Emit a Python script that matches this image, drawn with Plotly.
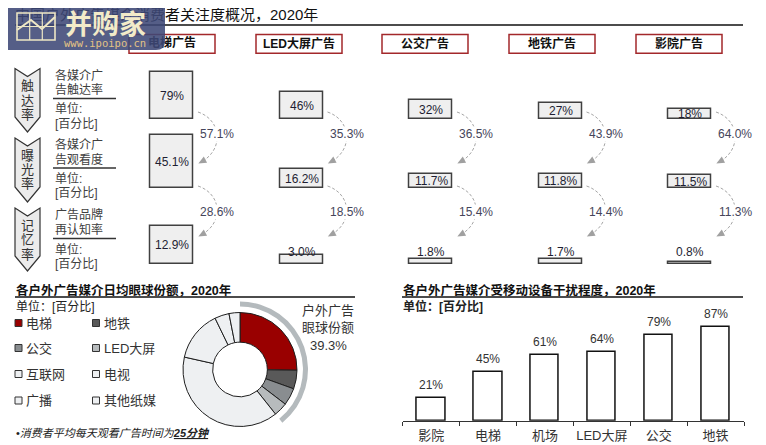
import math
import plotly.graph_objects as go

W, H = 766, 445
OX, OY = 8, 8   # page body margin: figure starts 8px in from the page corner

def X(x): return (x - OX) / W
def Y(y): return 1 - (y - OY) / H
def P(pt): return f"{X(pt[0]):.5f},{Y(pt[1]):.5f}"

FONT = "Liberation Sans, Arial, Noto Sans CJK SC, sans-serif"

# ---------------- data ----------------
title = "中国户外广告媒介消费者关注度概况，2020年"
media = ["电梯广告", "LED大屏广告", "公交广告", "地铁广告", "影院广告"]
stage_names = ["触达率", "曝光率", "记忆率"]
stage_desc = [["各媒介广", "告触达率"], ["各媒介广", "告观看度"], ["广告品牌", "再认知率"]]
unit_lines = ["单位:", "[百分比]"]
reach = [79, 46, 32, 27, 18]
exposure = [45.1, 16.2, 11.7, 11.8, 11.5]
recall = [12.9, 3.0, 1.8, 1.7, 0.8]
conv_reach_exposure = [57.1, 35.3, 36.5, 43.9, 64.0]
conv_exposure_recall = [28.6, 18.5, 15.4, 14.4, 11.3]

share_title = "各户外广告媒介日均眼球份额，2020年"
share_labels = ["电梯", "地铁", "公交", "LED大屏", "互联网", "电视", "广播", "其他纸媒"]
share_values = [25.2, 5.3, 4.9, 3.9, 39.2, 14.3, 4.1, 3.1]
outdoor_count = 4
footnote = "•<i>消费者平均每天观看广告时间为<b><u>25分钟</u></b></i>"

dist_title = "各户外广告媒介受移动设备干扰程度，2020年"
dist_cats = ["影院", "电梯", "机场", "LED大屏", "公交", "地铁"]
dist_vals = [21, 45, 61, 64, 79, 87]

# ---------------- styling ----------------
share_colors = ["#990000", "#595959", "#898D90", "#B7BBBD",
                "#EEF0F2", "#EEF0F2", "#EEF0F2", "#EEF0F2"]

fig = go.Figure()
shapes = []
ann = []

def text(x, y, s, size=12, color="#333", bold=False, anchor="left", bg=None, family=FONT):
    d = dict(x=X(x), y=Y(y), xref="paper", yref="paper", text=s, showarrow=False,
             xanchor=anchor, yanchor="middle",
             font=dict(family=family, size=size, color=color,
                       weight="bold" if bold else "normal"))
    if bg:
        d["bgcolor"] = bg
        d["borderpad"] = 0
    ann.append(d)

def rect(x0, y0, x1, y1, fill="rgba(0,0,0,0)", line="#000", lw=1):
    shapes.append(dict(type="rect", xref="paper", yref="paper", x0=X(x0), x1=X(x1),
                       y0=Y(y1), y1=Y(y0), fillcolor=fill,
                       line=dict(color=line, width=lw), layer="above"))

def hline(x0, x1, y, color="#000", lw=1.5):
    shapes.append(dict(type="line", xref="paper", yref="paper", x0=X(x0), x1=X(x1),
                       y0=Y(y), y1=Y(y), line=dict(color=color, width=lw), layer="above"))

def poly(pts, fill, line="rgba(0,0,0,0)", lw=0):
    p = "M " + " L ".join(P(q) for q in pts) + " Z"
    shapes.append(dict(type="path", xref="paper", yref="paper", path=p, fillcolor=fill,
                       line=dict(color=line, width=lw), layer="above"))

# ---------------- overlay axis (page pixel coords) for text under watermark ----------------
fig.add_trace(go.Scatter(x=[15], y=[16], text=[title], mode="text",
                         textposition="middle right",
                         textfont=dict(family=FONT, size=15, color="#111"),
                         xaxis="x5", yaxis="y5", cliponaxis=False, hoverinfo="skip"))
header_cx = [172, 299, 425, 552, 679]
fig.add_trace(go.Scatter(x=[header_cx[0]], y=[44], text=[media[0]], mode="text",
                         textposition="middle center",
                         textfont=dict(family=FONT, size=12, color="#111", weight="bold"),
                         xaxis="x5", yaxis="y5", cliponaxis=False, hoverinfo="skip"))

hline(15, 743, 25, "#111", 1.6)
for i, m in enumerate(media):
    cx = header_cx[i]
    rect(cx - 43, 34.5, cx + 43, 53.3, line="#A3282B", lw=1.5)
    if i > 0:
        text(cx, 44, m, size=12, color="#111", bold=True, anchor="center")

# ---------------- funnel boxes ----------------
row_base = [119.3, 188.3, 264.0]
row_top = [69, 128, 220]
row_scale = [0.6, 1.18, 2.95]
row_minlabel = [0, 0, 12.3]
rows = [reach, exposure, recall]
xl, xr = 107.25, 754.75
colw = (xr - xl) / 5
axnames = ["", "2", "3"]
for r in range(3):
    a = axnames[r]
    fig.add_trace(go.Bar(x=list(range(5)), y=rows[r], width=0.332,
                         marker=dict(color="#EFEFEF", line=dict(color="#404040", width=1.5)),
                         xaxis="x" + a, yaxis="y" + a, hoverinfo="skip"))
    fig.layout["xaxis" + a] = dict(domain=[X(xl), X(xr)], range=[-0.5, 4.5], visible=False,
                                   anchor="y" + a, fixedrange=True, automargin=False)
    fig.layout["yaxis" + a] = dict(domain=[Y(row_base[r]), Y(row_top[r])],
                                   range=[0, (row_base[r] - row_top[r]) / row_scale[r]],
                                   visible=False, anchor="x" + a, fixedrange=True,
                                   automargin=False)
    for i, v in enumerate(rows[r]):
        lab = f"{v:g}%" if r == 0 else f"{v:.1f}%"
        yv = max(v / 2, row_minlabel[r] / row_scale[r])
        ann.append(dict(x=i, y=yv, xref="x" + a, yref="y" + a, text=lab, showarrow=False,
                        xanchor="center", yanchor="middle",
                        font=dict(family=FONT, size=12, color="#1E1E32")))

arc_gaps = [(112, 162, 134), (186, 235, 212)]
rates = [conv_reach_exposure, conv_exposure_recall]
for g, (sy, ey, ty) in enumerate(arc_gaps):
    for i in range(5):
        cx = xl + colw * (i + 0.5)
        S = (cx + 26, sy); E = (cx + 29, ey)
        C1 = (cx + 50, sy + 8); C2 = (cx + 52, ey - 12)
        shapes.append(dict(type="path", xref="paper", yref="paper",
                           path=f"M {P(S)} C {P(C1)} {P(C2)} {P(E)}",
                           line=dict(color="#A6A6A6", width=1, dash="3px,2px"), layer="above"))
        dx, dy = E[0] - C2[0], E[1] - C2[1]
        n = math.hypot(dx, dy); ux, uy = dx / n, dy / n
        px_, py_ = -uy, ux
        tip = (E[0] + ux * 3, E[1] + uy * 3)
        bc = (E[0] - ux * 5, E[1] - uy * 5)
        poly([tip, (bc[0] + px_ * 3.5, bc[1] + py_ * 3.5), (bc[0] - px_ * 3.5, bc[1] - py_ * 3.5)],
             "#A0A0A0")
        text(cx + 45, ty, f"{rates[g][i]:.1f}%", size=12, color="#45455A", anchor="center",
             bg="white")

chev = [(68.5, 132), (138, 202), (208, 271)]
desc_off = [0, 69.5, 140]
for r in range(3):
    t, b = chev[r]
    poly([(15, t), (27.5, t + 8), (40, t), (40, b - 15), (27.5, b), (15, b - 15)],
         "#EBEBEB", "#333", 1.2)
    for k, ch in enumerate(stage_names[r]):
        text(27.5, t + 17 + 14.5 * k, ch, size=13, color="#333", anchor="center")
    o = desc_off[r]
    text(53, 75 + o, stage_desc[r][0], size=12, color="#404040")
    text(53, 89.5 + o, stage_desc[r][1], size=12, color="#404040")
    hline(53, 116, 98.5 + o, "#333", 1.5)
    text(53, 109 + o, unit_lines[0], size=12, color="#404040")
    text(53, 123.5 + o, unit_lines[1], size=12, color="#404040")

# ---------------- bottom-left: donut ----------------
text(14, 290, share_title, size=12.5, color="#111", bold=True)
hline(15, 355, 297, "#111", 1.3)
text(14, 306.5, "单位：[百分比]", size=12, color="#222")
leg_x = [15, 92.5]
leg_y = [323, 348, 374, 400.5]
for k, lab in enumerate(share_labels):
    sx = leg_x[k % 2]; yy = leg_y[k // 2]
    rect(sx, yy - 3.5, sx + 7, yy + 3.5, fill=share_colors[k], line="#333", lw=1)
    text(sx + 9, yy, lab, size=13, color="#333")

fig.add_trace(go.Pie(labels=share_labels, values=share_values, hole=0.48, sort=False,
                     direction="clockwise", rotation=0, textinfo="none",
                     marker=dict(colors=share_colors, line=dict(color="#1F1F1F", width=1)),
                     domain=dict(x=[X(183), X(297)], y=[Y(426.5), Y(312.5)]),
                     hoverinfo="skip", showlegend=False))
outdoor = round(sum(share_values[:outdoor_count]), 1)
fig.add_trace(go.Pie(labels=["户外", "其他"], values=[outdoor, 100 - outdoor], hole=0.926,
                     sort=False, direction="clockwise", rotation=0, textinfo="none",
                     marker=dict(colors=["#B4BABD", "rgba(0,0,0,0)"], line=dict(width=0)),
                     domain=dict(x=[X(172), X(308)], y=[Y(437.5), Y(301.5)]),
                     hoverinfo="skip", showlegend=False))
text(328, 310, "户外广告", size=13, color="#333", anchor="center")
text(328, 327, "眼球份额", size=13, color="#333", anchor="center")
text(328, 345, f"{outdoor:.1f}%", size=13, color="#333", anchor="center")
text(14, 433, footnote, size=11, color="#222")

# ---------------- bottom-right: bar chart ----------------
text(401, 290, dist_title, size=12.5, color="#111", bold=True)
hline(402, 743, 297, "#111", 1.3)
text(401, 306.5, "单位：[百分比]", size=12, color="#222", bold=True)
fig.add_trace(go.Bar(x=dist_cats, y=dist_vals, width=0.5,
                     marker=dict(color="white", line=dict(color="#111", width=1.5)),
                     xaxis="x4", yaxis="y4", hoverinfo="skip"))
for c, v in zip(dist_cats, dist_vals):
    ann.append(dict(x=c, y=v, xref="x4", yref="y4", text=f"{v}%", showarrow=False,
                    xanchor="center", yanchor="middle", yshift=13,
                    font=dict(family=FONT, size=12, color="#333")))
fig.layout["xaxis4"] = dict(domain=[X(402.7), X(744)], anchor="y4", type="category",
                            showline=True, linecolor="#333", linewidth=1,
                            ticks="outside", tickson="boundaries", ticklen=4,
                            tickcolor="#333", tickangle=0, automargin=False,
                            ticklabelstandoff=3,
                            tickfont=dict(family=FONT, size=13, color="#333"),
                            showgrid=False, fixedrange=True)
fig.layout["yaxis4"] = dict(domain=[Y(420.7), Y(305)], range=[0, (420.7 - 305) / 1.08],
                            visible=False, anchor="x4", fixedrange=True, automargin=False)
fig.layout["xaxis5"] = dict(domain=[0, 1], range=[OX, W + OX], visible=False, anchor="y5",
                            fixedrange=True, automargin=False)
fig.layout["yaxis5"] = dict(domain=[0, 1], range=[H + OY, OY], visible=False, anchor="x5",
                            fixedrange=True, automargin=False)

# ---------------- watermark ----------------
r_ = 9; x0, y0, x1, y1 = 0, -2, 165, 50
wm = (f"M {P((x0, y0))} L {P((x1 - r_, y0))} Q {P((x1, y0))} {P((x1, y0 + r_))} "
      f"L {P((x1, y1 - r_))} Q {P((x1, y1))} {P((x1 - r_, y1))} "
      f"L {P((x0 + r_, y1))} Q {P((x0, y1))} {P((x0, y1 - r_))} Z")
shapes.append(dict(type="path", xref="paper", yref="paper", path=wm,
                   fillcolor="rgba(62,72,118,0.88)", line=dict(width=0), layer="above"))
ic = "#EEE7C5"
rect(17, 13, 55, 40, line=ic, lw=1.6)
for xv in (29.7, 42.3):
    shapes.append(dict(type="line", xref="paper", yref="paper", x0=X(xv), x1=X(xv),
                       y0=Y(13), y1=Y(40), line=dict(color=ic, width=1.2), layer="above"))
hline(17, 55, 26.5, ic, 1.2)
zz = [(17, 30), (31, 20), (42, 29), (55, 17)]
shapes.append(dict(type="path", xref="paper", yref="paper",
                   path="M " + " L ".join(P(q) for q in zz),
                   line=dict(color=ic, width=2), layer="above"))
text(105, 23, "并购家", size=27, color="#F2EBC9", bold=True, anchor="center",
     family="Noto Sans CJK SC")
text(105, 42.5, "www.ipoipo.cn", size=10.5, color="#E3C285", anchor="center",
     family="DejaVu Sans Mono")

fig.update_layout(width=W, height=H, autosize=False, margin=dict(l=0, r=0, t=0, b=0),
                  paper_bgcolor="white", plot_bgcolor="rgba(0,0,0,0)",
                  showlegend=False, hovermode=False, bargap=0,
                  shapes=shapes, annotations=ann,
                  font=dict(family=FONT))
fig.write_html("out.html")
